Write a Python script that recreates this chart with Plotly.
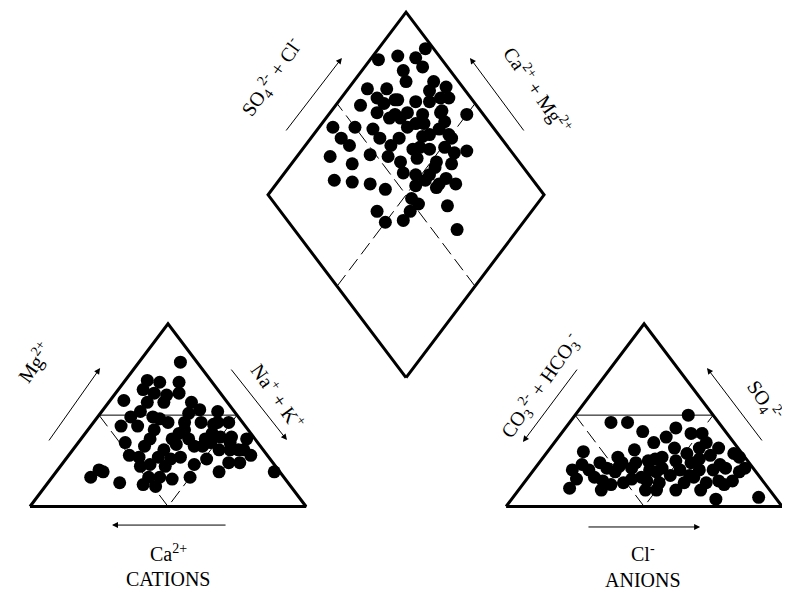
import plotly.graph_objects as go

# ---------------- data (percent of meq/L) ----------------
# Cation triangle: Mg2+ and Na+ + K+ (Ca2+ is the remainder)
cat_mg = [79, 69, 68, 68, 64, 62, 62, 58, 57, 57, 57, 53, 52, 46, 52, 44, 44, 42, 46, 46,
          46, 40, 38, 37, 35, 33, 37, 37, 33, 31, 31, 28, 27, 27, 27, 26, 24, 22, 22, 16,
          16, 16, 19, 24, 19, 20, 16, 13, 12, 11, 15, 37, 40, 35, 38, 33, 49, 49, 46, 51,
          31, 19, 31, 35, 61, 42, 37, 26, 31, 48, 34, 23, 45, 28, 23]
cat_nak = [15, 8, 13, 20, 9, 14, 23, 5, 14, 20, 30, 35, 14, 27, 42, 11, 17, 24, 33, 39,
           49, 46, 54, 60, 17, 25, 33, 39, 46, 53, 60, 66, 26, 33, 41, 51, 60, 29, 38, 35,
           39, 50, 59, 64, 79, 15, 14, 26, 35, 40, 44, 25, 34, 48, 50, 43, 20, 12, 45, 32,
           33, 17, 62, 55, 19, 35, 45, 38, 57, 23, 36, 32, 44, 22, 48]

# Anion triangle: SO4 2- and Cl- (CO3 2- + HCO3- is the remainder)
an_so4 = [46, 46, 50, 43, 41, 40, 40, 30, 20, 20, 10, 14, 27, 31, 35, 32, 35, 32, 29, 19,
          21, 25, 27, 29, 26, 16, 19, 20, 16, 20, 21, 19, 21, 13, 13, 13, 13, 14, 4, 5,
          16, 21, 14, 14, 27, 21, 24, 38, 22, 25, 20, 20, 28, 24, 15, 26, 17, 15, 24, 17,
          23, 9, 9, 9, 12, 9, 9, 24, 32, 12, 23]
an_cl = [15, 21, 41, 40, 29, 47, 51, 13, 14, 20, 18, 28, 27, 31, 36, 45, 55, 61, 68, 30,
         35, 39, 43, 51, 57, 41, 45, 53, 60, 65, 69, 75, 76, 36, 49, 58, 66, 75, 74, 89,
         24, 46, 44, 70, 71, 26, 55, 39, 30, 49, 42, 60, 60, 22, 18, 41, 58, 38, 30, 51,
         66, 30, 46, 66, 32, 50, 57, 35, 54, 73, 16]

# Diamond: SO4 2- + Cl- and Ca2+ + Mg2+
dia_so4cl = [97, 85, 77, 91, 83, 81, 65, 72, 91, 94, 58, 66, 73, 62, 84, 92, 94, 78, 86, 65,
             69, 56, 42, 50, 42, 43, 48, 54, 63, 72, 80, 82, 84, 33, 39, 57, 64, 70, 75, 55,
             28, 34, 40, 44, 56, 63, 69, 71, 51, 61, 35, 47, 62, 35, 42, 59, 79, 68, 56, 58,
             64, 73, 85, 73, 68, 71, 77, 84, 87, 65, 68, 52, 72, 79, 91, 89, 76, 69, 67, 75,
             82, 59, 65]
dia_camg = [83, 91, 97, 79, 85, 81, 93, 86, 71, 65, 91, 87, 79, 83, 67, 61, 50, 66, 60, 77,
            68, 80, 95, 87, 89, 84, 74, 67, 68, 60, 56, 49, 40, 88, 78, 61, 56, 48, 42, 57,
            80, 73, 66, 59, 49, 41, 40, 35, 47, 47, 56, 44, 32, 50, 44, 22, 72, 58, 75, 69,
            47, 72, 60, 66, 76, 54, 49, 56, 70, 60, 47, 43, 80, 44, 84, 64, 63, 73, 83, 58,
            51, 52, 41]

# ---------------- geometry (side of each triangle = 100 units) ----------------
H = 0.8660254
AX0 = 172.5            # left corner of the anion triangle
DX, DY = 136.25, 61.1  # bottom corner of the diamond


def cation_xy(mg, nak):
    return [n + m / 2 for m, n in zip(mg, nak)], [m * H for m in mg]


def anion_xy(so4, cl):
    return [AX0 + c + s / 2 for s, c in zip(so4, cl)], [s * H for s in so4]


def diamond_xy(s, t):
    return [DX + (a - b) / 2 for a, b in zip(s, t)], [DY + (a + b) * H for a, b in zip(s, t)]


fig = go.Figure()


def line(xs, ys, width=1, dash=None):
    fig.add_trace(go.Scatter(x=xs, y=ys, mode="lines", hoverinfo="skip",
                             line=dict(color="black", width=width, dash=dash),
                             showlegend=False))


# inner subdivision lines
line([25, 75], [50 * H, 50 * H], 1)
line([25, 50, 75], [50 * H, 0, 50 * H], 1, "14px,6px")
line([AX0 + 25, AX0 + 75], [50 * H, 50 * H], 1)
line([AX0 + 25, AX0 + 50, AX0 + 75], [50 * H, 0, 50 * H], 1, "14px,6px")
line([DX - 25, DX + 25], [DY + 50 * H, DY + 150 * H], 1, "14px,6px")
line([DX + 25, DX - 25], [DY + 50 * H, DY + 150 * H], 1, "14px,6px")

# outlines
line([0, 100, 50, 0], [0, 0, 100 * H, 0], 3)
line([AX0, AX0 + 100, AX0 + 50, AX0], [0, 0, 100 * H, 0], 3)
line([DX, DX + 50, DX, DX - 50, DX], [DY, DY + 100 * H, DY + 200 * H, DY + 100 * H, DY], 3)

# sample points
mk = dict(color="black", size=13, line=dict(width=0))
cx, cy = cation_xy(cat_mg, cat_nak)
ax_, ay_ = anion_xy(an_so4, an_cl)
dx_, dy_ = diamond_xy(dia_so4cl, dia_camg)
for xs, ys in ((cx, cy), (ax_, ay_), (dx_, dy_)):
    fig.add_trace(go.Scatter(x=xs, y=ys, mode="markers", marker=mk, showlegend=False))

# arrows
arrows = [
    ((6.5, 30.6), (25.4, 65.6)),      # Mg
    ((72.5, 65.6), (93.1, 31.5)),     # Na + K
    ((71.4, -8.8), (29.7, -8.8)),     # Ca
    ((198.6, 65.6), (178.6, 30.6)),   # CO3 + HCO3
    ((265.6, 30.6), (245.3, 65.6)),   # SO4
    ((201.8, -9.7), (242.8, -9.7)),   # Cl
    ((92.4, 177.5), (113.0, 212.6)),  # SO4 + Cl
    ((179.3, 177.5), (159.4, 212.6)), # Ca + Mg
]
for (tx, ty), (hx, hy) in arrows:
    fig.add_annotation(x=hx, y=hy, ax=tx, ay=ty, xref="x", yref="y", axref="x", ayref="y",
                       text="", showarrow=True, arrowhead=2, arrowsize=1.2,
                       arrowwidth=1, arrowcolor="black")

font = dict(family="Liberation Serif, Times New Roman, serif", size=20, color="black")
labels = [
    ("Mg<sup>2+</sup>", 1.8, 68.5, -55),
    ("Na<sup>+</sup> + K<sup>+</sup>", 90.0, 52.5, 55),
    ("Ca<sup>2+</sup>", 50, -22, 0),
    ("CATIONS", 50, -34.4, 0),
    ("CO<sub>3</sub><sup>2-</sup> + HCO<sub>3</sub><sup>-</sup>", 185.1, 57.1, -55),
    ("SO<sub>4</sub><sup>2-</sup>", 266.0, 50.0, 55),
    ("Cl<sup>-</sup>", 222.0, -22, 0),
    ("ANIONS", 222.0, -34.6, 0),
    ("SO<sub>4</sub><sup>2-</sup> + Cl<sup>-</sup>", 87.7, 203.0, -55),
    ("Ca<sup>2+</sup> + Mg<sup>2+</sup>", 183.7, 197.4, 55),
]
for txt, x, y, ang in labels:
    fig.add_annotation(x=x, y=y, xref="x", yref="y", text=txt, showarrow=False,
                       textangle=ang, font=font)

# the page body adds an 8 px margin, so the figure is 782x584 and placed at (8, 8)
fig.update_layout(
    width=782, height=584, autosize=False,
    margin=dict(l=0, r=0, t=0, b=0),
    paper_bgcolor="white", plot_bgcolor="white",
    xaxis=dict(range=[-7.97, 275.36], visible=False, fixedrange=True),
    yaxis=dict(range=[-40.52, 236.26], visible=False, fixedrange=True),
    showlegend=False,
)

fig.write_html("out.html")
